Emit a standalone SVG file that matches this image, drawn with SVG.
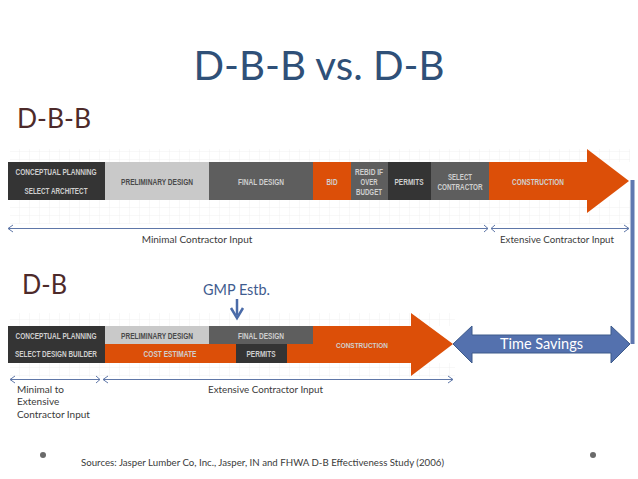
<svg xmlns="http://www.w3.org/2000/svg" width="638" height="479" viewBox="0 0 638 479">
<style>
text{font-family:Lato,"Open Sans",sans-serif}
.b{font-family:"Liberation Sans",Arial,sans-serif;font-weight:700;font-size:9px;text-anchor:middle;fill:#cfcfcf}
.l{font-size:10px;fill:#3a3a3a}
.a{fill:none;stroke:#5f77a8;stroke-width:1}
.h{fill:none;stroke:#5f77a8;stroke-width:1}
.k{fill:#343434}.m{fill:#5e5e5e}.g{fill:#c9c9c9}.o{fill:#dc4f08}
</style>
<defs>
<pattern id="grid" width="10" height="8" patternUnits="userSpaceOnUse"><path d="M10 0V8M0 8H10" fill="none" stroke="#f1f1f1" stroke-width="1"/></pattern>
</defs>
<rect width="638" height="479" fill="#fff"/>
<g id="grid-background">
<rect x="10" y="149" width="620" height="13" fill="url(#grid)"/>
<rect x="10" y="200" width="620" height="24" fill="url(#grid)"/>
<rect x="10" y="313" width="445" height="13" fill="url(#grid)"/>
<rect x="10" y="363" width="445" height="14" fill="url(#grid)"/>
</g>
<text id="title" x="319" y="80" font-size="40" text-anchor="middle" fill="#2f5078" textLength="251" lengthAdjust="spacingAndGlyphs">D-B-B vs. D-B</text>
<text id="dbb-label" x="17" y="128" font-size="27" fill="#4d2a2a" textLength="74" lengthAdjust="spacingAndGlyphs">D-B-B</text>
<text id="db-label" x="22" y="294" font-size="27" fill="#4d2a2a" textLength="45" lengthAdjust="spacingAndGlyphs">D-B</text>
<g id="dbb-timeline">
<rect class="k" x="8" y="162" width="97" height="38"/>
<rect class="g" x="105" y="162" width="104" height="38"/>
<rect class="m" x="209" y="162" width="104" height="38"/>
<rect class="o" x="313" y="162" width="38" height="38"/>
<rect class="m" x="351" y="162" width="37" height="38"/>
<rect class="k" x="388" y="162" width="43" height="38"/>
<rect class="m" x="431" y="162" width="58" height="38"/>
<path class="o" d="M489 162H587V149L629 181L587 213V200H489Z"/>
<text class="b" x="56" y="175" textLength="81" lengthAdjust="spacingAndGlyphs">CONCEPTUAL PLANNING</text>
<text class="b" x="56" y="194" textLength="63" lengthAdjust="spacingAndGlyphs">SELECT ARCHITECT</text>
<text class="b" x="157" y="185" style="fill:#4a4a4a" textLength="72" lengthAdjust="spacingAndGlyphs">PRELIMINARY DESIGN</text>
<text class="b" x="261" y="185" textLength="46" lengthAdjust="spacingAndGlyphs">FINAL DESIGN</text>
<text class="b" x="332" y="185" textLength="11" lengthAdjust="spacingAndGlyphs">BID</text>
<text class="b" x="369" y="175" textLength="28" lengthAdjust="spacingAndGlyphs">REBID IF</text>
<text class="b" x="369" y="185" textLength="17" lengthAdjust="spacingAndGlyphs">OVER</text>
<text class="b" x="369" y="195" textLength="26" lengthAdjust="spacingAndGlyphs">BUDGET</text>
<text class="b" x="409" y="185" textLength="29" lengthAdjust="spacingAndGlyphs">PERMITS</text>
<text class="b" x="460" y="180" textLength="24" lengthAdjust="spacingAndGlyphs">SELECT</text>
<text class="b" x="460" y="190" textLength="45" lengthAdjust="spacingAndGlyphs">CONTRACTOR</text>
<text class="b" x="538" y="185" textLength="52" lengthAdjust="spacingAndGlyphs">CONSTRUCTION</text>
</g>
<g id="db-timeline">
<rect class="k" x="8" y="326" width="97" height="37"/>
<rect class="g" x="105" y="326" width="104" height="18"/>
<rect class="m" x="209" y="326" width="104" height="18"/>
<rect class="o" x="105" y="344" width="131" height="19"/>
<rect class="k" x="236" y="344" width="51" height="19"/>
<path class="o" d="M287 344H313V326H411V313L453 344L411 376V363H287Z"/>
<text class="b" x="56" y="339" textLength="81" lengthAdjust="spacingAndGlyphs">CONCEPTUAL PLANNING</text>
<text class="b" x="56" y="357" textLength="82" lengthAdjust="spacingAndGlyphs">SELECT DESIGN BUILDER</text>
<text class="b" x="157" y="339" style="fill:#4a4a4a" textLength="72" lengthAdjust="spacingAndGlyphs">PRELIMINARY DESIGN</text>
<text class="b" x="261" y="339" textLength="46" lengthAdjust="spacingAndGlyphs">FINAL DESIGN</text>
<text class="b" x="170" y="357" textLength="53" lengthAdjust="spacingAndGlyphs">COST ESTIMATE</text>
<text class="b" x="261" y="357" textLength="29" lengthAdjust="spacingAndGlyphs">PERMITS</text>
<text class="b" x="362" y="348" textLength="52" lengthAdjust="spacingAndGlyphs" style="font-size:8px">CONSTRUCTION</text>
</g>
<g id="time-savings">
<path d="M453 344L472 326V335H611V326L630 344L611 363V353H472V363Z" fill="#5471ae" stroke="#3d5a8a"/>
<text x="541.500" y="349" font-size="14.500" text-anchor="middle" fill="#fff" textLength="83" lengthAdjust="spacingAndGlyphs">Time Savings</text>
</g>
<g id="connectors">
<path d="M632.500 180V344" fill="none" stroke="#5f77b0" stroke-width="4"/>
<path class="a" d="M8 228.500H488M491 228.500H629M10 379.500H100M103 379.500H453"/>
<path class="h" d="M13 225L8 228.500L13 232M484 225L488 228.500L484 232M495 225L491 228.500L495 232M624 225L629 228.500L624 232"/>
<path class="h" d="M15 376L10 379.500L15 383M96 376L100 379.500L96 383M108 376L103 379.500L108 383M448 376L453 379.500L448 383"/>
<path d="M237 299V315" fill="none" stroke="#4a6ba8" stroke-width="2.500"/>
<path d="M231 308L237 318L243 308" fill="none" stroke="#4a6ba8" stroke-width="2.500"/>
</g>
<g id="labels">
<text class="l" x="197" y="243" text-anchor="middle">Minimal Contractor Input</text>
<text class="l" x="557" y="243" text-anchor="middle" textLength="114" lengthAdjust="spacingAndGlyphs">Extensive Contractor Input</text>
<text x="236.500" y="295" font-size="14.500" text-anchor="middle" fill="#3f5c8f" textLength="67" lengthAdjust="spacingAndGlyphs">GMP Estb.</text>
<text class="l" x="17" y="393">Minimal to</text>
<text class="l" x="17" y="405">Extensive</text>
<text class="l" x="17" y="418">Contractor Input</text>
<text class="l" x="265.500" y="393" text-anchor="middle" textLength="115" lengthAdjust="spacingAndGlyphs">Extensive Contractor Input</text>
<text class="l" x="81" y="466" textLength="363" lengthAdjust="spacingAndGlyphs">Sources: Jasper Lumber Co, Inc., Jasper, IN and FHWA D-B Effectiveness Study (2006)</text>
</g>
<g id="bullets" fill="#6a6a6a">
<circle cx="43" cy="455" r="3"/>
<circle cx="593" cy="455" r="3"/>
</g>
</svg>
